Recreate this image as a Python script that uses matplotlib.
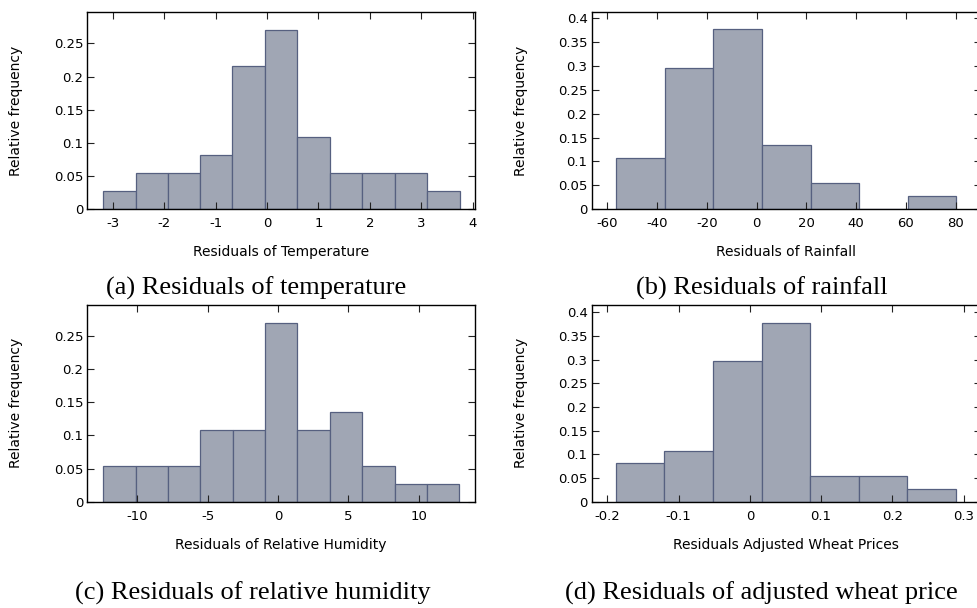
"""Four relative-frequency histograms of residuals (gnuplot look-alike)."""
import matplotlib

matplotlib.use("Agg")
import matplotlib.pyplot as plt
import numpy as np
from matplotlib.ticker import FuncFormatter

# bin edges and relative frequencies
temp_edges = [-3.18, -2.55, -1.92, -1.30, -0.67, -0.04, 0.59, 1.22, 1.85, 2.48, 3.11, 3.74]
temp_freq = [0.027, 0.054, 0.054, 0.081, 0.216, 0.270, 0.108, 0.054, 0.054, 0.054, 0.027]

rain_edges = [-56.5, -36.9, -17.4, 2.2, 21.7, 41.3, 60.8, 80.3]
rain_freq = [0.108, 0.297, 0.378, 0.135, 0.054, 0.0, 0.027]

hum_edges = [-12.42, -10.12, -7.82, -5.52, -3.22, -0.92, 1.38, 3.68, 5.98, 8.28, 10.58, 12.88]
hum_freq = [0.054, 0.054, 0.054, 0.108, 0.108, 0.270, 0.108, 0.135, 0.054, 0.027, 0.027]

wheat_edges = [-0.188, -0.120, -0.051, 0.017, 0.085, 0.153, 0.221, 0.290]
wheat_freq = [0.081, 0.108, 0.297, 0.378, 0.054, 0.054, 0.027]

temp_xticks = [-3, -2, -1, 0, 1, 2, 3, 4]
rain_xticks = [-60, -40, -20, 0, 20, 40, 60, 80]
hum_xticks = [-10, -5, 0, 5, 10]
wheat_xticks = [-0.2, -0.1, 0, 0.1, 0.2, 0.3]
yticks_small = [0, 0.05, 0.1, 0.15, 0.2, 0.25]
yticks_big = [0, 0.05, 0.1, 0.15, 0.2, 0.25, 0.3, 0.35, 0.4]

FILL = "#a0a6b4"
EDGE = "#566080"
W, H = 978, 608

fig = plt.figure(figsize=(W / 100, H / 100), dpi=100)


def px_axes(left, top, right, bottom):
    return fig.add_axes([left / W, 1 - bottom / H, (right - left) / W, (bottom - top) / H])


fmt = FuncFormatter(lambda v, _: "{:g}".format(round(v, 6)))

panels = [
    # edges, freq, xticks, yticks, xlim, ylim, xlabel, pixel box
    (temp_edges, temp_freq, temp_xticks, yticks_small, (-3.49, 4.04), (0, 0.297),
     "Residuals of Temperature", (87.3, 12.3, 475, 209)),
    (rain_edges, rain_freq, rain_xticks, yticks_big, (-66.3, 90), (0, 0.413),
     "Residuals of Rainfall", (591.7, 12.3, 980.6, 209)),
    (hum_edges, hum_freq, hum_xticks, yticks_small, (-13.55, 14.0), (0, 0.297),
     "Residuals of Relative Humidity", (87.3, 305, 475, 501.7)),
    (wheat_edges, wheat_freq, wheat_xticks, yticks_big, (-0.222, 0.324), (0, 0.415),
     "Residuals Adjusted Wheat Prices", (591.7, 305, 980.6, 501.7)),
]

for edges, freq, xt, yt, xl, yl, xlab, box in panels:
    ax = px_axes(*box)
    edges = np.asarray(edges)
    ax.bar(edges[:-1], freq, width=np.diff(edges), align="edge",
           color=FILL, edgecolor=EDGE, linewidth=0.9, zorder=1)
    ax.set_xlim(*xl)
    ax.set_ylim(*yl)
    ax.set_xticks(xt)
    ax.set_yticks(yt)
    ax.xaxis.set_major_formatter(fmt)
    ax.yaxis.set_major_formatter(fmt)
    ax.tick_params(direction="in", top=True, right=True, length=5, width=0.8,
                   color="#222222", labelsize=9.5, zorder=3)
    ax.tick_params(axis="x", pad=6)
    ax.tick_params(axis="y", pad=3)
    for s in ax.spines.values():
        s.set_linewidth(1.0)
        s.set_zorder(4)
    ax.set_xlabel(xlab, fontsize=10)
    ax.set_ylabel("Relative frequency", fontsize=10)
    ax.xaxis.set_label_coords(0.5, -0.185)
    # anchor is the right edge of the rotated label
    ax.yaxis.set_label_coords(-0.165, 0.5)

captions = [
    ("(a) Residuals of temperature", 256, 288),
    ("(b) Residuals of rainfall", 761.5, 288),
    ("(c) Residuals of relative humidity", 253, 593),
    ("(d) Residuals of adjusted wheat price", 761, 593),
]
for txt, cx, cy in captions:
    fig.text(cx / W, 1 - cy / H, txt, ha="center", va="center",
             family="Liberation Serif", fontsize=19)

fig.savefig("out.png", dpi=100)
